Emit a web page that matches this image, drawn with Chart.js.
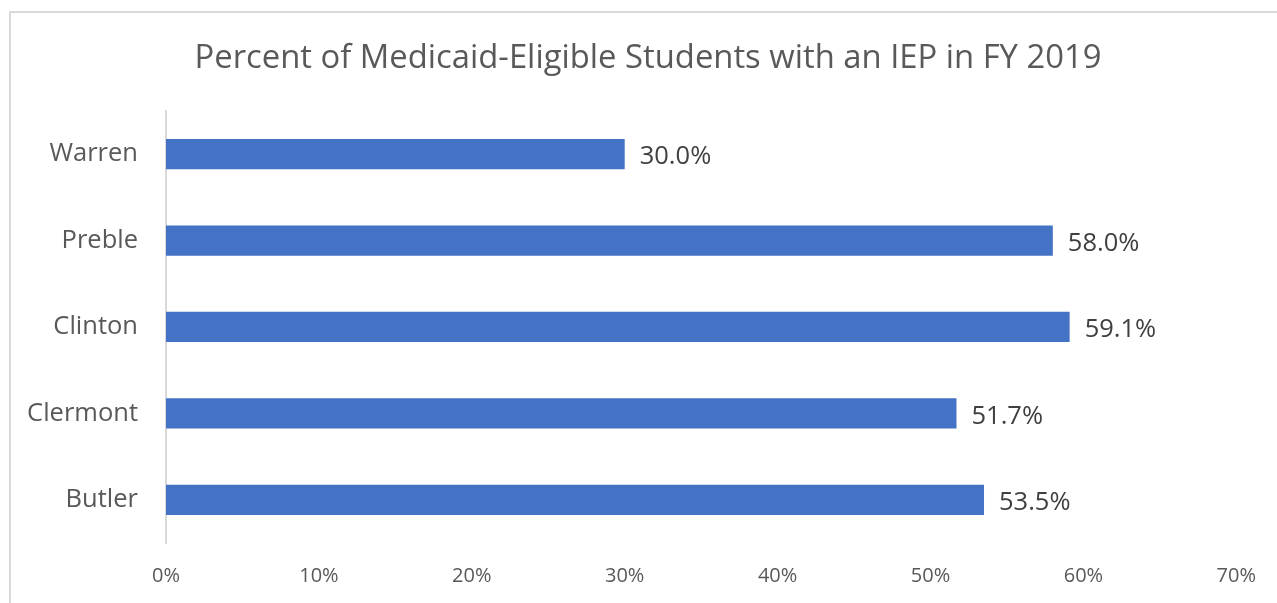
<!DOCTYPE html>
<html>
<head>
<meta charset="utf-8">
<script src="https://cdn.jsdelivr.net/npm/chart.js@4"></script>
<style>
    html, body { margin: 0; padding: 0; background: #fff; overflow: hidden; }
    #wrap { position: relative; width: 1277px; height: 603px; }
    #frame {
        position: absolute; left: 9px; top: 11px; width: 1300px; height: 620px;
        border-left: 2px solid #d9d9d9; border-top: 2px solid #d9d9d9;
    }
    canvas { position: absolute; left: 0; top: 0; }
</style>
</head>
<body>
<div id="wrap">
    <div id="frame"></div>
    <canvas id="chart" width="1277" height="603"></canvas>
</div>
<script>
const counties = ["Warren", "Preble", "Clinton", "Clermont", "Butler"];
const iepPercent = [30.0, 58.0, 59.1, 51.7, 53.5];
const xTicks = [0, 10, 20, 30, 40, 50, 60, 70];

const FONT = "'Open Sans', sans-serif";

// draw value labels just past the end of each bar
const valueLabels = {
    id: "valueLabels",
    afterDatasetsDraw(chart) {
        const ctx = chart.ctx;
        const meta = chart.getDatasetMeta(0);
        ctx.save();
        ctx.font = "25.5px " + FONT;
        ctx.fillStyle = "#404040";
        ctx.textAlign = "left";
        ctx.textBaseline = "middle";
        meta.data.forEach((bar, i) => {
            ctx.fillText(iepPercent[i].toFixed(1) + "%", bar.x + 15, bar.y + 3);
        });
        ctx.restore();
    }
};

new Chart(document.getElementById("chart"), {
    type: "bar",
    data: {
        labels: counties,
        datasets: [{
            data: iepPercent,
            backgroundColor: "#4472c4",
            barPercentage: 0.35,
            categoryPercentage: 1.0
        }]
    },
    options: {
        indexAxis: "y",
        responsive: false,
        animation: false,
        layout: { padding: { top: 39, right: 0, bottom: 0, left: 19 } },
        plugins: {
            legend: { display: false },
            tooltip: { enabled: false },
            title: {
                display: true,
                text: "Percent of Medicaid-Eligible Students with an IEP in FY 2019",
                color: "#595959",
                font: { family: FONT, size: 32.8, weight: "normal" },
                padding: { top: 0, bottom: 32.6 }
            }
        },
        scales: {
            x: {
                min: 0,
                max: 70,
                afterBuildTicks(axis) {
                    axis.ticks = xTicks.map(v => ({ value: v }));
                },
                afterFit(axis) { axis.height = 60; },
                grid: { display: false, drawTicks: false },
                border: { display: false },
                ticks: {
                    color: "#595959",
                    padding: 21,
                    font: { family: FONT, size: 20 },
                    callback: v => v + "%"
                }
            },
            y: {
                afterFit(axis) { axis.width = 147; },
                grid: { display: false, drawTicks: false },
                border: { display: true, color: "#d9d9d9", width: 2 },
                ticks: {
                    color: "#595959",
                    padding: 28,
                    font: { family: FONT, size: 25.5 }
                }
            },
            // empty right-hand spacer so the plot ends at 70% like the original
            spacer: {
                type: "linear",
                axis: "y",
                position: "right",
                afterFit(axis) { axis.width = 38; },
                grid: { display: false, drawTicks: false },
                border: { display: false },
                ticks: { display: false }
            }
        }
    },
    plugins: [valueLabels]
});
</script>
</body>
</html>
